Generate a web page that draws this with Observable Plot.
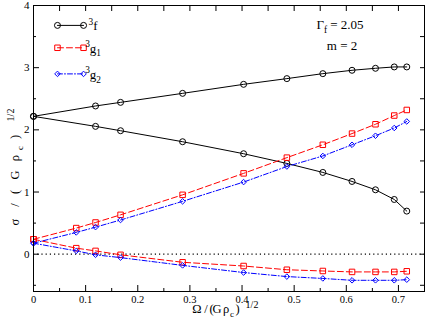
<!DOCTYPE html>
<html>
<head>
<meta charset="utf-8">
<script src="https://cdn.jsdelivr.net/npm/d3@7"></script>
<script src="https://cdn.jsdelivr.net/npm/@observablehq/plot@0.6"></script>
<style>
  html, body { margin: 0; padding: 0; background: white; overflow: hidden; }
  svg text, svg tspan { font-family: "Liberation Serif", "Times New Roman", serif !important; }
</style>
</head>
<body>
<div id="chart"></div>
<script>
// Omega / (G rho_c)^1/2 sample points
const xF = [0, 0.119, 0.167, 0.286, 0.403, 0.486, 0.555, 0.611, 0.656, 0.692, 0.716];
const xG = [0, 0.082, 0.119, 0.167, 0.286, 0.403, 0.486, 0.555, 0.611, 0.656, 0.692, 0.716];

// sigma values, two branches per mode
const fUpper  = [2.217, 2.384, 2.442, 2.587, 2.732, 2.824, 2.904, 2.958, 2.990, 3.012, 3.012];
const fLower  = [2.217, 2.056, 1.986, 1.809, 1.616, 1.460, 1.315, 1.170, 1.036, 0.880, 0.693];
const g1Upper = [0.240, 0.420, 0.510, 0.633, 0.955, 1.300, 1.553, 1.760, 1.940, 2.090, 2.230, 2.320];
const g1Lower = [0.240, 0.097, 0.053, -0.010, -0.130, -0.190, -0.250, -0.270, -0.285, -0.285, -0.285, -0.275];
const g2Upper = [0.177, 0.350, 0.435, 0.550, 0.850, 1.160, 1.410, 1.580, 1.760, 1.905, 2.030, 2.135];
const g2Lower = [0.177, 0.053, -0.010, -0.055, -0.180, -0.295, -0.360, -0.390, -0.420, -0.420, -0.420, -0.410];

// axis ticks
const xMajor = [0, 0.1, 0.2, 0.3, 0.4, 0.5, 0.6, 0.7];
const xMinor = [0.05, 0.15, 0.25, 0.35, 0.45, 0.55, 0.65, 0.75];
const yMajor = [0, 1, 2, 3, 4];
const yMinor = [-0.5, 0.5, 1.5, 2.5, 3.5];

// legend
const legendNames = ["f", "g1", "g2"];
const legendX = [0.046, 0.096];
const legendY = [3.68, 3.32, 2.90];

function rows(xs, ys, branch) { return xs.map((x, i) => ({x, y: ys[i], branch})); }
const fData  = [...rows(xF, fUpper, "u"),  ...rows(xF, fLower, "l")];
const g1Data = [...rows(xG, g1Upper, "u"), ...rows(xG, g1Lower, "l")];
const g2Data = [...rows(xG, g2Upper, "u"), ...rows(xG, g2Lower, "l")];

const styles = {
  f:  {stroke: "black", dash: null, symbol: "circle", r: 3},
  g1: {stroke: "#ff0000", dash: "6,3", symbol: "square", r: 3.1},
  g2: {stroke: "#0000ff", dash: "5,2,1,2", symbol: "diamond2", r: 2.5}
};
const seriesData = {f: fData, g1: g1Data, g2: g2Data};

const legendLines = legendNames.flatMap((n, i) => legendX.map(x => ({x, y: legendY[i], name: n})));

const marks = [
  Plot.ruleY([0], {stroke: "black", strokeDasharray: "1.2,3", strokeWidth: 1.2}),
];
for (const n of legendNames) {
  const s = styles[n];
  marks.push(Plot.line(seriesData[n], {x: "x", y: "y", z: "branch", stroke: s.stroke, strokeWidth: 1, strokeDasharray: s.dash}));
  marks.push(Plot.dot(seriesData[n], {x: "x", y: "y", r: s.r, symbol: s.symbol, stroke: s.stroke, fill: "none", strokeWidth: 1}));
  const ld = legendLines.filter(d => d.name === n);
  marks.push(Plot.line(ld, {x: "x", y: "y", stroke: s.stroke, strokeWidth: 1, strokeDasharray: s.dash}));
  marks.push(Plot.dot(ld, {x: "x", y: "y", r: s.r, symbol: s.symbol, stroke: s.stroke, fill: "none", strokeWidth: 1}));
}
marks.push(
  // inward ticks, bottom/top
  Plot.axisX(xMajor, {anchor: "bottom", tickSize: -6, fill: "none", label: null}),
  Plot.axisX(xMinor, {anchor: "bottom", tickSize: -3, fill: "none", label: null}),
  Plot.axisX(xMajor, {anchor: "top", tickSize: -5, fill: "none", label: null}),
  Plot.axisX(xMinor, {anchor: "top", tickSize: -5, fill: "none", label: null}),
  Plot.axisX(xMajor, {anchor: "bottom", tickSize: 0, tickPadding: 4, stroke: "none", label: null, fontSize: 10.5,
    tickFormat: d => String(+d.toFixed(2))}),
  // inward ticks, left/right
  Plot.axisY(yMajor, {anchor: "left", tickSize: -6, fill: "none", label: null}),
  Plot.axisY(yMinor, {anchor: "left", tickSize: -3, fill: "none", label: null}),
  Plot.axisY(yMajor, {anchor: "right", tickSize: -5, fill: "none", label: null}),
  Plot.axisY(yMinor, {anchor: "right", tickSize: -5, fill: "none", label: null}),
  Plot.axisY(yMajor, {anchor: "left", tickSize: 0, tickPadding: 4, stroke: "none", label: null, fontSize: 11,
    tickFormat: d => String(d)}),
  Plot.frame({stroke: "black", strokeWidth: 1})
);

const plot = Plot.plot({
  width: 425,
  height: 327,
  marginLeft: 33,
  marginRight: 1,
  marginTop: 5,
  marginBottom: 36,
  x: {domain: [0, 0.75], label: null},
  y: {domain: [-0.6, 4], label: null},
  style: {fontFamily: "'Liberation Serif', 'Times New Roman', serif", fontSize: "11px", background: "white", color: "black"},
  marks
});
document.getElementById("chart").appendChild(plot);

// rich-text labels (super/subscripts)
const svg = d3.select(plot);
const sx = plot.scale("x"), sy = plot.scale("y");
const g = svg.append("g").attr("fill", "black");

// parts: [text, kind, position-along-line (optional)]
function rich(parent, parts, fs, supScale = 0.72) {
  let offset = 0;
  for (const [txt, kind, pos] of parts) {
    const t = parent.append("tspan").text(txt);
    const target = kind === "sup" ? -fs * 0.42 : kind === "sub" ? fs * 0.28 : 0;
    if (kind) t.attr("font-size", fs * (kind === "sup" ? supScale : 0.72));
    t.attr("dy", target - offset);
    offset = target;
    if (pos !== undefined) t.attr("x", pos);
  }
}

// legend labels
const legendParts = {
  f:  [["3", "sup"], ["f", null]],
  g1: [["3", "sup"], ["g", null], ["1", "sub"]],
  g2: [["3", "sup"], ["g", null], ["2", "sub"]]
};
legendNames.forEach((n, i) => {
  const t = g.append("text").attr("x", sx.apply(legendX[1]) + 10).attr("y", sy.apply(legendY[i]) + 5.5)
    .attr("font-size", 13);
  rich(t, legendParts[n], 13);
});

// annotations
const a1 = g.append("text").attr("x", 340).attr("y", 29).attr("font-size", 13);
rich(a1, [["Γ", null], ["f", "sub"], [" = 2.05", null]], 13);
g.append("text").attr("x", 342).attr("y", 49.5).attr("font-size", 13).text("m = 2");

// axis titles
const xt = g.append("text").attr("y", 313).attr("font-size", 12.5);
rich(xt, [["Ω", null, 197], ["/", null, 206], ["(", null, 211.5], ["G", null, 217], ["ρ", null, 226],
          ["c", "sub", 232], [")", null, 237.5], ["1/2", "sup", 252]], 12.5, 0.8);
const yt = g.append("g").attr("transform", "translate(19,0) rotate(-90)")
  .append("text").attr("y", 0).attr("font-size", 12.5);
rich(yt, [["σ", null, -222], ["/", null, -205], ["(", null, -192], ["G", null, -175], ["ρ", null, -158],
          ["c", "sub", -148], [")", null, -137], ["1/2", "sup", -115]], 12.5, 0.8);
</script>
</body>
</html>
